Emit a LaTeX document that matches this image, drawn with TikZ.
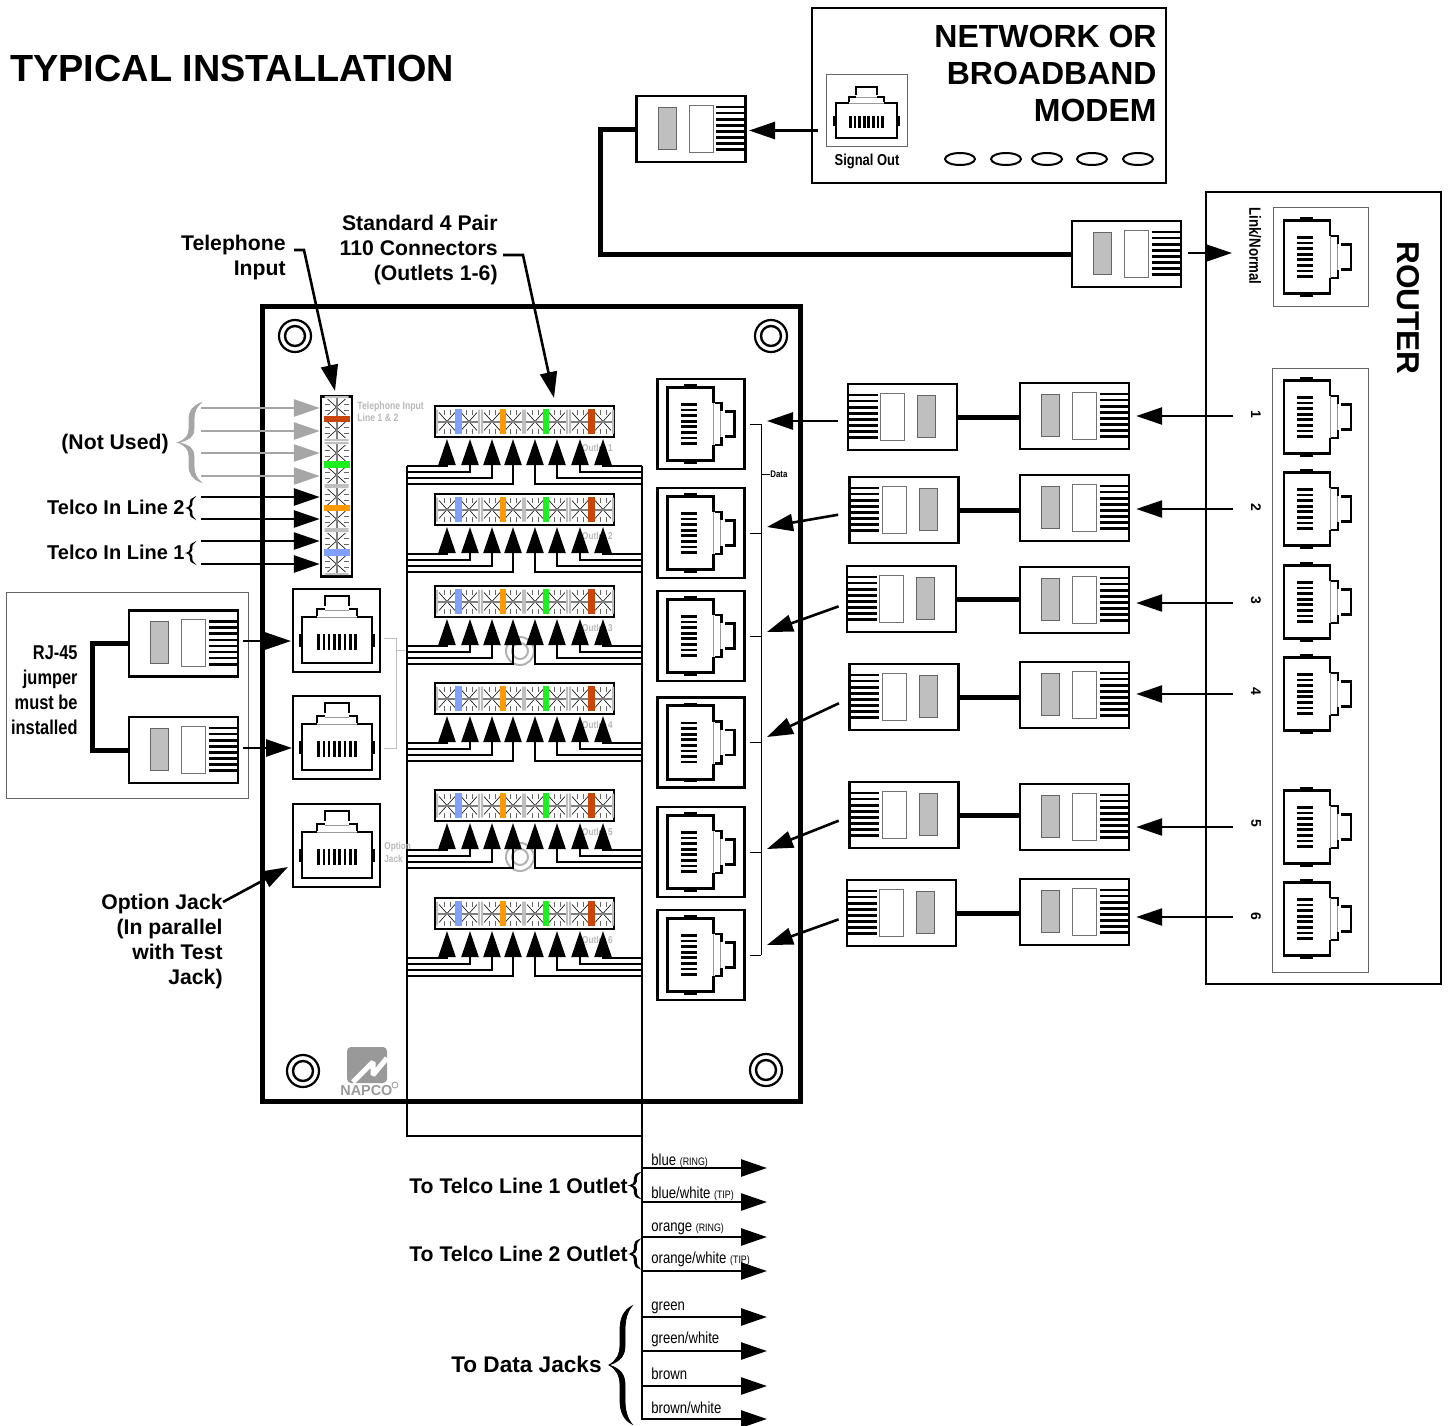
\documentclass[tikz,border=0pt]{standalone}
\usepackage{fontspec}
\setmainfont{Liberation Sans}
\newfontfamily\narrowfont[FakeStretch=0.82]{Liberation Sans}
\usepackage{tikz}
\usetikzlibrary{arrows.meta,calc}
\definecolor{ghostgray}{gray}{0.65}
\definecolor{paleblue}{RGB}{128,160,255}
\definecolor{wireorange}{RGB}{255,153,0}
\definecolor{wiregreen}{RGB}{30,240,30}
\definecolor{wirebrown}{RGB}{200,70,10}
\tikzset{
    %Define standard arrow tip
    >={Triangle[length=13pt,width=8.5pt]},
    %Define style for boxes
    plugbox/.style={
           rectangle,
           draw=black, line width=1.2pt,
           fill=white,
           inner sep=0pt,
           minimum width=54.5pt,
           minimum height=33pt},
    jackbox/.style={
           rectangle,
           draw=black, line width=1.2pt,
           fill=white,
           inner sep=0pt,
           minimum width=43.5pt,
           minimum height=41.5pt},
    datajack/.style={
           jackbox,
           minimum height=45pt},
    blockbox/.style={
           rectangle,
           draw=black, line width=1.2pt,
           fill=white,
           inner sep=0pt,
           minimum width=89.5pt,
           minimum height=15.5pt},
    stripbox/.style={
           rectangle,
           draw=black, line width=1.2pt,
           fill=white,
           inner sep=0pt,
           minimum width=15.5pt,
           minimum height=90pt},
    thinbox/.style={
           rectangle,
           draw=black!60, line width=.4pt,
           inner sep=0pt},
    %Define style for labels
    bigbold/.style={font=\fontsize{16pt}{18.5pt}\selectfont\bfseries, inner sep=0pt},
    callout/.style={font=\fontsize{10.6pt}{12.5pt}\selectfont\bfseries, inner sep=0pt},
    outletlabel/.style={font=\fontsize{10.6pt}{13pt}\selectfont\bfseries, inner sep=0pt},
    narrowbold/.style={font=\narrowfont\fontsize{10pt}{12.4pt}\selectfont\bfseries, inner sep=0pt},
    wirelabel/.style={font=\narrowfont\fontsize{8pt}{10pt}\selectfont, inner sep=0pt},
    ghostlabel/.style={font=\narrowfont\fontsize{5.3pt}{6pt}\selectfont\bfseries, text=black!28, inner sep=0pt},
    % Define arrow style
    pil/.style={->, line width=1.3pt},
    ghostpil/.style={->, line width=1.3pt, draw=ghostgray},
    wirepil/.style={->, line width=1.1pt},
    cable/.style={line width=2.5pt},
    %Define the repeated drawings
    plugdetail/.pic={
        \fill[black!25] (-33,-22) rectangle (-15,20);
        \draw[black!60, line width=.5pt] (-33,-22) rectangle (-15,20);
        \draw[black!55, line width=.5pt] (-2,-24) rectangle (22,23);
        \foreach \ys in {-22,-15.9,-9.8,-3.7,2.4,8.5,14.6,20.7}
            \draw[line width=1.3pt] (25,\ys) -- (54,\ys);
    },
    jackdetail/.pic={
        \draw[line width=1.3pt] (-20,-23) -- (-35,-23) -- (-35,23) -- (35,23) -- (35,-23) -- (20,-23);
        \draw[black!40, line width=.3pt] (-20,-23) -- (20,-23);
        \draw[line width=1.3pt] (-20,-24) -- (-20,-31) -- (-12,-31);
        \draw[line width=1.3pt] (20,-24) -- (20,-31) -- (12,-31);
        \draw[line width=1.3pt] (-12,-34) -- (-12,-44) -- (12,-44) -- (12,-34);
        \draw[black!40, line width=.3pt] (-12,-30) -- (12,-30);
        \foreach \xs in {-18.5,-13.2,-7.9,-2.6,2.6,7.9,13.2,18.5}
            \draw[line width=1.3pt] (\xs,-6) -- (\xs,10);
        \draw[line width=1.8pt] (-36,-6) -- (-36,7) (36,-6) -- (36,7);
    },
    cellx/.pic={
        \fill[black!25] (-11,-12) rectangle (-9,12) (9,-12) rectangle (11,12);
        \draw[line width=.3pt] (-8,-9) -- (8,9) (-8,9) -- (8,-9);
        \fill[black!50] (-9,-1) rectangle (9,1);
        \draw[black!60, line width=.3pt] (-3,-12) -- (-3,-7) (3,-12) -- (3,-7) (-3,12) -- (-3,7) (3,12) -- (3,7);
    },
    curlybrace/.pic={
        \path[draw,fill] (23,-59) .. controls (15,-55) and (11,-47) .. (11,-35) -- (11,-20)
            .. controls (11,-10) and (7,-4) .. (0,0) .. controls (7,4) and (11,10) .. (11,20)
            -- (11,35) .. controls (11,47) and (15,55) .. (23,59)
            .. controls (18,53) and (16,45) .. (16,35) -- (16,20)
            .. controls (16,10) and (12,4) .. (0,0) .. controls (12,-4) and (16,-10) .. (16,-20)
            -- (16,-35) .. controls (16,-45) and (18,-53) .. (23,-59) -- cycle;
    },
    smallbrace/.style={line width=.55pt}
}
\begin{document}
\begin{tikzpicture}[x=0.5pt,y=-0.5pt]
\useasboundingbox (0,0) rectangle (1448,1426);
\node[anchor=base west, inner sep=0pt, font=\fontsize{18.9pt}{20pt}\selectfont\bfseries] (title) at (10,81) {TYPICAL INSTALLATION};
 %modem
\node[rectangle, draw=black, line width=1.3pt, minimum width=177pt, minimum height=87.5pt, inner sep=0pt] (modem) at (989,95.5) {};
\node[bigbold, anchor=north east, align=right] (modemlab) at (1157,25) {NETWORK OR\\BROADBAND\\MODEM};
\node[thinbox, minimum width=40.5pt, minimum height=36pt] (sigbox) at (866.5,110) {};
\pic[xscale=.87,yscale=.76] at (866.5,120.5) {jackdetail};
\node[narrowbold, font=\narrowfont\fontsize{7.9pt}{9pt}\selectfont\bfseries] (siglab) at (867,161) {Signal Out};
\foreach \xe in {960,1006,1047,1092,1138}
    \draw[line width=1pt] (\xe,159) circle [x radius=7.5pt, y radius=3pt];
 %router
\node[rectangle, draw=black, line width=1.3pt, minimum width=117.5pt, minimum height=396pt, inner sep=0pt] (router) at (1323.5,588) {};
\node[bigbold, font=\fontsize{15.8pt}{18pt}\selectfont\bfseries, rotate=-90] (routerlab) at (1408,308) {ROUTER};
\node[thinbox, minimum width=47.5pt, minimum height=49.5pt] (linkbox) at (1320.5,257) {};
\node[thinbox, minimum width=48pt, minimum height=302pt] (portbox) at (1320,670) {};
\node[narrowbold, font=\narrowfont\fontsize{8.1pt}{9pt}\selectfont\bfseries, rotate=-90] (linklab) at (1255,246) {Link/Normal};
\pic[rotate=-90,xscale=1.05] at (1307,257) {jackdetail};
\foreach \nm/\yj/\yn in {1/417/414,2/509/507,3/602/600,4/694/691,5/827/823,6/919/916}{
    \pic[rotate=-90,xscale=1.05] at (1307,\yj) {jackdetail};
    \node[font=\fontsize{7pt}{8pt}\selectfont\bfseries, rotate=-90, inner sep=0pt] (rn\nm) at (1256,\yn) {\nm};
}
 %panel
\node[rectangle, draw=black, line width=2.5pt, minimum width=269pt, minimum height=397.5pt, inner sep=0pt] (panel) at (531,704) {};
\foreach \xs/\ys in {295/336,771/336,303/1071,766/1070}{
    \draw[line width=1.1pt] (\xs,\ys) circle [radius=8pt];
    \draw[line width=1.2pt] (\xs,\ys) circle [radius=5pt];
}
\foreach \ys in {651,857}{
    \draw[black!30, line width=1pt] (520,\ys) circle [radius=7pt];
    \draw[black!30, line width=1pt] (520,\ys) circle [radius=4pt];
}
\fill[black!40, rounded corners=2pt] (347,1047) rectangle (387,1083);
\draw[white, line width=2.5pt, line join=bevel] (353,1082) -- (373,1062) -- (373,1075) -- (387,1058);
\draw[black!40, line width=.4pt] (395,1085) circle [radius=1.5pt];
\node[anchor=base west, inner sep=0pt, text=black!40, font=\fontsize{7.2pt}{8pt}\selectfont\bfseries] (napco) at (340,1095) {NAPCO};
 %terminal strip
\node[stripbox] (strip) at (336.5,486.5) {};
\foreach \yc in {407,430,453,475,497,519,541,564}
    \pic[rotate=90] at (336.5,\yc) {cellx};
\foreach \ya/\yb/\cl in {416/422/wirebrown,461/468/wiregreen,505/511/wireorange,549/556/paleblue}
    \fill[\cl] (324,\ya) rectangle (350,\yb);
\node[ghostlabel, anchor=north west, align=left] (striplab) at (357,401) {Telephone Input\\Line 1 \& 2};
\foreach \nm/\yt/\xo in {1/408/201,2/431/201,3/453/201,4/476/201}{
    \coordinate (gt\nm) at (\xo,\yt);
    \draw[ghostpil] (gt\nm) -- (strip.west |- gt\nm);
}
\foreach \nm/\yt/\xo in {5/497/201,6/519/201,7/541/201,8/564/201}{
    \coordinate (gt\nm) at (\xo,\yt);
    \draw[pil] (gt\nm) -- (strip.west |- gt\nm);
}
\pic[color=ghostgray,xscale=1,yscale=.67] at (178,442.5) {curlybrace};
\pic[smallbrace,xscale=.3,yscale=.17] at (187,508) {curlybrace};
\pic[smallbrace,xscale=.3,yscale=.17] at (187,553) {curlybrace};
\node[callout, anchor=base east] (notused) at (169,449) {(Not Used)};
\node[callout, font=\fontsize{10pt}{12pt}\selectfont\bfseries, anchor=base east] (telco2) at (185,514) {Telco In Line 2};
\node[callout, font=\fontsize{10pt}{12pt}\selectfont\bfseries, anchor=base east] (telco1) at (185,559) {Telco In Line 1};
 %wiring
\coordinate (busL) at (407,466);
\coordinate (busR) at (642,466);
\coordinate (busLow) at (407,1136);
\coordinate (busEnd) at (642,1420);
\draw[line width=1.2pt, line join=miter] (busL) -- (busLow) -- (busLow -| busR);
\draw[line width=1.2pt] (busR) -- (busEnd);
 %110 connectors
\foreach \nm/\ytop in {1/406,2/494,3/586,4/683,5/790,6/898}{
    \node[blockbox] (blk\nm) at (524.5,\ytop+15.5) {};
    \foreach \xc in {447,469,492,513,535,557,580,603}
        \pic at (\xc,\ytop+15.5) {cellx};
    \foreach \xa/\xb/\cl in {455/462/paleblue,500/506/wireorange,543/549/wiregreen,588/595/wirebrown}
        \fill[\cl] (\xa,\ytop+3) rectangle (\xb,\ytop+28);
    \node[ghostlabel, font=\narrowfont\fontsize{5pt}{6pt}\selectfont\bfseries] (outlet\nm) at (597.5,\ytop+42) {Outlet \nm};
    \foreach \c/\xc/\wo/\sd in {1/447/60/busL,2/470/66/busL,3/492/72/busL,4/513/78/busL,5/535/78/busR,6/557/72/busR,7/580/66/busR,8/603/60/busR}{
        \coordinate (wr\nm\c) at (\xc,\ytop+\wo);
        \coordinate (tip\nm\c) at (\xc,\ytop+33);
        \draw[wirepil] (\sd |- wr\nm\c) -- (wr\nm\c) -- (tip\nm\c);
    }
}
 %option jacks
\foreach \nm/\yb/\yj in {1/630.5/640,2/737.5/747,3/845.5/855}{
    \node[jackbox] (ojk\nm) at (336.5,\yb) {};
    \pic at (337,\yj) {jackdetail};
}
\draw[black!25, line width=.4pt] (384,638) -- (396,638) -- (396,748) -- (384,748) (396,650) -- (405,650);
\node[ghostlabel, font=\narrowfont\fontsize{5pt}{6.5pt}\selectfont\bfseries, anchor=north west, align=left] (optjack) at (384,842) {Option\\Jack};
\node[callout, anchor=north east, align=right] (optlab) at (223,894) {Option Jack\\(In parallel\\with Test\\Jack)};
\coordinate (optstart) at (223,902);
\coordinate (opttip) at (288,867);
\draw[pil] (optstart) -- (opttip);
 %jumper
\node[thinbox, minimum width=121pt, minimum height=103pt] (jumpbox) at (127,695) {};
\node[narrowbold, anchor=north east, align=right] (jumplab) at (78,645.7) {RJ-45\\jumper\\must be\\installed};
\node[plugbox] (jump1) at (183.5,643.5) {};
\node[plugbox] (jump2) at (183.5,750) {};
\pic at (183.5,643.5) {plugdetail};
\pic at (183.5,750) {plugdetail};
\coordinate (jumpbend) at (92,695);
\draw[cable] (jump1.west) -| (jumpbend) |- (jump2.west);
\coordinate (jump1tip) at (291,641);
\coordinate (jump2tip) at (292,748);
\draw[pil, shorten <=2pt] (jump1.east |- jump1tip) -- (jump1tip);
\draw[pil, shorten <=2pt] (jump2.east |- jump2tip) -- (jump2tip);
 %data jacks
\foreach \nm/\yb in {1/424,2/533,3/636,4/742.5,5/852,6/955}{
    \node[datajack] (djk\nm) at (701,\yb) {};
    \pic[rotate=-90,xscale=1.05] at (690.5,\yb) {jackdetail};
}
\coordinate (databar) at (761,424);
\draw[line width=.5pt] (databar |- djk1) -- (databar |- djk6);
\foreach \nm in {1,...,6}
    \draw[line width=.5pt, shorten <=2pt] (djk\nm.east) -- (databar |- djk\nm);
\node[ghostlabel, font=\narrowfont\fontsize{4.8pt}{6pt}\selectfont\bfseries, text=black, anchor=west] (datalab) at (770,474) {Data};
\draw[line width=.5pt] (databar |- datalab) -- (datalab.west);
 %plugs to the router
\foreach \nm/\xl/\yl/\yr/\ys/\yd/\ya in {1/902.5/417/416/421/421/416,2/904/510/508/513/527/509,3/901.5/599/600/603/632/603,4/904/697/695/699/737/694,5/904/815/817/817/849/827,6/901.5/913/912/916/945/917}{
    \node[plugbox] (pl\nm) at (\xl,\yl) {};
    \pic[xscale=-1] at (\xl,\yl) {plugdetail};
    \node[plugbox] (pr\nm) at (1074.5,\yr) {};
    \pic at (1074.5,\yr) {plugdetail};
    \draw[cable] (pl\nm.east) -- (pr\nm.west |- pl\nm.east);
    \coordinate (ds\nm) at (848,\ys);
    \coordinate (dt\nm) at (767,\yd);
    \draw[pil, shorten <=5pt] (ds\nm) -- (dt\nm);
    \coordinate (ra\nm) at (1233,\ya);
    \draw[pil, shorten >=3pt] (ra\nm) -- (pr\nm.east |- ra\nm);
}
 %modem to router
\node[plugbox] (pm) at (691,129) {};
\pic at (691,129) {plugdetail};
\node[plugbox] (pt) at (1126.5,254) {};
\pic at (1126.5,254) {plugdetail};
\coordinate (cablebend) at (600,190);
\draw[cable] (pm.west) -| (cablebend) |- (pt.west);
\coordinate (pmtip) at (749,130.5);
\draw[pil, shorten <=4pt] (sigbox.west |- pmtip) -- (pmtip);
\coordinate (pttip) at (1232,253);
\draw[pil, shorten <=3pt] (pt.east |- pttip) -- (pttip);
 %pointers
\node[callout, anchor=north east, align=right] (tellab) at (286,235) {Telephone\\Input};
\node[callout, anchor=north east, align=right] (stdlab) at (498,215) {Standard 4 Pair\\110 Connectors\\(Outlets 1-6)};
\coordinate (telA) at (294,250);
\coordinate (telB) at (304,250);
\coordinate (teltip) at (335,391);
\draw[pil, line join=miter] (telA) -- (telB) -- (teltip);
\coordinate (stdA) at (503,255);
\coordinate (stdB) at (523,255);
\coordinate (stdtip) at (554,398);
\draw[pil, line join=miter] (stdA) -- (stdB) -- (stdtip);
 %outgoing wires
\foreach \nm/\ya/\yb/\tx in {1/1168/1165/{blue {\fontsize{5.4pt}{7pt}\selectfont (RING)}},
    2/1202/1198/{blue/white {\fontsize{5.4pt}{7pt}\selectfont (TIP)}},
    3/1237/1231/{orange {\fontsize{5.4pt}{7pt}\selectfont (RING)}},
    4/1271/1263/{orange/white {\fontsize{5.4pt}{7pt}\selectfont (TIP)}},
    5/1317/1310/{green},6/1351/1343/{green/white},7/1386/1379/{brown},8/1419/1413/{brown/white}}{
    \coordinate (out\nm) at (767,\ya);
    \draw[pil] (busEnd |- out\nm) -- (out\nm);
    \node[wirelabel, anchor=base west] (wl\nm) at (651,\yb) {\tx};
}
\pic[smallbrace,xscale=.4,yscale=.21] at (630,1185.5) {curlybrace};
\pic[smallbrace,xscale=.4,yscale=.24] at (630,1254) {curlybrace};
\pic at (609,1365) {curlybrace};
\node[outletlabel, anchor=base east] (line1lab) at (628,1193) {To Telco Line 1 Outlet};
\node[outletlabel, anchor=base east] (line2lab) at (628,1261) {To Telco Line 2 Outlet};
\node[outletlabel, font=\fontsize{11.3pt}{13pt}\selectfont\bfseries, anchor=base east] (datajacks) at (602,1372) {To Data Jacks};
\end{tikzpicture}
\end{document}
